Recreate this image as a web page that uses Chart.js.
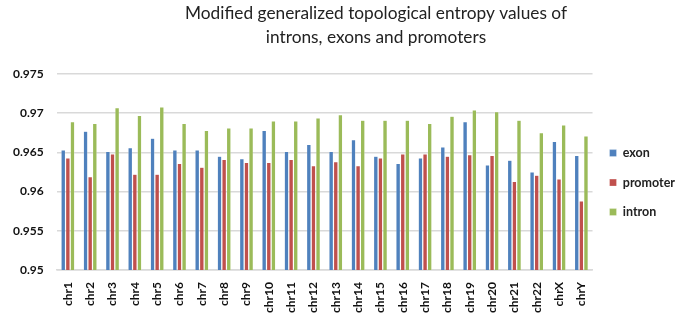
<!DOCTYPE html>
<html>
<head>
<meta charset="utf-8">
<script src="https://cdn.jsdelivr.net/npm/chart.js@4/dist/chart.umd.min.js"></script>
<style>
  html, body { margin: 0; padding: 0; background: #fff; }
  #wrap { width: 685px; height: 315px; }
</style>
</head>
<body>
<div id="wrap"><canvas id="entropy"></canvas></div>
<script>
// chromosomes
const chromosomes = ["chr1","chr2","chr3","chr4","chr5","chr6","chr7","chr8","chr9","chr10","chr11","chr12",
  "chr13","chr14","chr15","chr16","chr17","chr18","chr19","chr20","chr21","chr22","chrX","chrY"];

// values
const exon = [0.9653,0.9677,0.9651,0.9656,0.9668,0.9653,0.9653,0.9645,0.9642,0.9678,0.9651,0.9660,
  0.9651,0.9666,0.9645,0.9636,0.9643,0.9657,0.9689,0.9634,0.9640,0.9625,0.9664,0.9646];
const promoter = [0.9643,0.9619,0.9648,0.9622,0.9622,0.9636,0.9631,0.9641,0.9637,0.9637,0.9641,0.9633,
  0.9638,0.9633,0.9643,0.9648,0.9648,0.9645,0.9647,0.9646,0.9613,0.9621,0.9616,0.9588];
const intron = [0.9689,0.9687,0.9707,0.9697,0.9708,0.9687,0.9678,0.9681,0.9681,0.9690,0.9690,0.9694,
  0.9698,0.9691,0.9691,0.9691,0.9687,0.9696,0.9704,0.9702,0.9691,0.9675,0.9685,0.9671];

const yTicks = [0.95, 0.955, 0.96, 0.965, 0.97, 0.975];
const titleLines = ["Modified generalized topological entropy values of", "introns, exons and promoters"];

const font = "Lato, 'Open Sans', sans-serif";

function serie(label, data, color) {
  return {
    label: label,
    data: data,
    backgroundColor: color,
    borderColor: "rgba(255,255,255,0.6)",
    borderWidth: 0.5,
    categoryPercentage: 0.62,
    barPercentage: 0.95
  };
}

// title sits a bit right of centre in the original, so it is drawn by hand
const titlePlugin = {
  id: 'offTitle',
  afterDraw(chart) {
    const ctx = chart.ctx;
    ctx.save();
    ctx.font = "17.3px " + font;
    ctx.fillStyle = "#222";
    ctx.textAlign = "center";
    ctx.textBaseline = "middle";
    ctx.fillText(titleLines[0], 376, 13);
    ctx.fillText(titleLines[1], 376, 37);
    ctx.restore();
  }
};

new Chart(document.getElementById("entropy"), {
  type: 'bar',
  data: {
    labels: chromosomes,
    datasets: [
      serie("exon", exon, "#4F81BD"),
      serie("promoter", promoter, "#C0504D"),
      serie("intron", intron, "#9BBB59")
    ]
  },
  plugins: [titlePlugin],
  options: {
    responsive: true,
    maintainAspectRatio: false,
    animation: false,
    layout: { padding: { left: 0, right: 0, top: 74, bottom: 0 } },
    plugins: {
      tooltip: { enabled: false },
      title: { display: false },
      legend: {
        position: 'right',
        fullSize: false,
        title: { display: true, text: ' ', font: { size: 1 }, padding: { top: 20, bottom: 0 } },
        labels: {
          boxWidth: 7,
          boxHeight: 7,
          padding: 17,
          color: "#222",
          font: { family: font, size: 12.5, weight: 'bold' }
        }
      }
    },
    scales: {
      x: {
        grid: { display: false, drawTicks: false },
        border: { color: "#d9d9d9", width: 1.5 },
        afterFit(scale) { scale.height = 45; },
        ticks: {
          minRotation: 90,
          maxRotation: 90,
          autoSkip: false,
          padding: 12,
          color: "#111",
          font: { family: font, size: 12, weight: 'bold' }
        }
      },
      y: {
        min: yTicks[0],
        max: yTicks[yTicks.length - 1],
        afterBuildTicks: function(axis) { axis.ticks = yTicks.map(v => ({ value: v })); },
        grid: { color: "#d9d9d9", lineWidth: 1.5, drawTicks: false },
        border: { display: false },
        ticks: {
          padding: 13,
          color: "#111",
          font: { family: font, size: 12, weight: 'bold' },
          callback: v => String(Number(v.toFixed(3)))
        }
      }
    }
  }
});
</script>
</body>
</html>
